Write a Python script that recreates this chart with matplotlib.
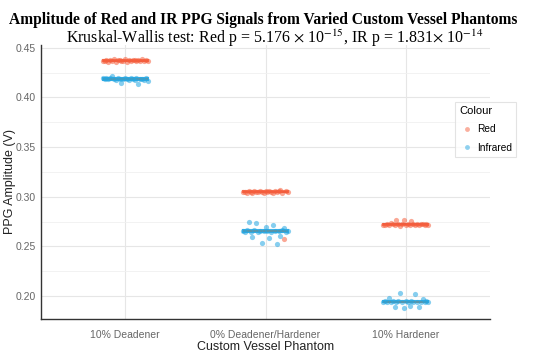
import matplotlib
matplotlib.use("Agg")
import matplotlib.pyplot as plt
import numpy as np
from matplotlib.lines import Line2D

plt.rcParams["mathtext.fontset"] = "stix"

categories = ["10% Deadener", "0% Deadener/Hardener", "10% Hardener"]

red_deadener = [0.4372, 0.4365, 0.4381, 0.4358, 0.4376, 0.4369, 0.4384, 0.4362, 0.4374,
                0.4379, 0.4367, 0.4371, 0.4386, 0.4360, 0.4375, 0.4368, 0.4380, 0.4373,
                0.4364, 0.4377, 0.4370, 0.4383, 0.4366, 0.4378, 0.4371]
ir_deadener = [0.4195, 0.4188, 0.4201, 0.4183, 0.4192, 0.4212, 0.4186, 0.4179, 0.4198,
               0.4190, 0.4150, 0.4184, 0.4193, 0.4187, 0.4176, 0.4196, 0.4189, 0.4181,
               0.4194, 0.4140, 0.4185, 0.4191, 0.4178, 0.4199, 0.4170]
red_neutral = [0.3045, 0.3052, 0.3040, 0.3058, 0.3048, 0.3036, 0.3055, 0.3043, 0.3050,
               0.3062, 0.3047, 0.3039, 0.3054, 0.3044, 0.3060, 0.3049, 0.3041, 0.3057,
               0.3046, 0.3053, 0.3065, 0.3042, 0.2578, 0.3059, 0.3048]
ir_neutral = [0.2655, 0.2648, 0.2662, 0.2745, 0.2650, 0.2590, 0.2668, 0.2735, 0.2643,
              0.2658, 0.2530, 0.2652, 0.2700, 0.2660, 0.2580, 0.2646, 0.2720, 0.2657,
              0.2520, 0.2651, 0.2600, 0.2664, 0.2690, 0.2649, 0.2659]
red_hardener = [0.2720, 0.2715, 0.2728, 0.2712, 0.2735, 0.2722, 0.2718, 0.2770, 0.2725,
                0.2710, 0.2730, 0.2765, 0.2719, 0.2726, 0.2714, 0.2760, 0.2723, 0.2717,
                0.2729, 0.2713, 0.2721, 0.2727, 0.2716, 0.2724, 0.2720]
ir_hardener = [0.1940, 0.1948, 0.1935, 0.1985, 0.1943, 0.1952, 0.1890, 0.1938, 0.1946,
               0.2030, 0.1937, 0.1880, 0.1950, 0.1942, 0.1900, 0.1955, 0.1939, 0.2020,
               0.1945, 0.1885, 0.1941, 0.1975, 0.1936, 0.1949, 0.1944]

red_groups = [red_deadener, red_neutral, red_hardener]
ir_groups = [ir_deadener, ir_neutral, ir_hardener]

RED = "#F6603E"
BLUE = "#23A6E2"

fig = plt.figure(figsize=(5.5, 3.56), dpi=100)
ax = fig.add_axes([0.0745, 0.104, 0.8165, 0.770])

for series, color, med in [(red_groups, RED, "#E8553A"), (ir_groups, BLUE, "#B07A50")]:
    for i, vals in enumerate(series):
        pos = i + 1
        ax.bxp([{
            "med": np.median(vals),
            "q1": np.percentile(vals, 25),
            "q3": np.percentile(vals, 75),
            "whislo": np.percentile(vals, 25),
            "whishi": np.percentile(vals, 75),
            "fliers": [],
        }], positions=[pos], widths=0.32, patch_artist=True, showcaps=False,
            boxprops=dict(facecolor=color, edgecolor=color, lw=1.5, alpha=0.85),
            medianprops=dict(color=med, lw=1.2),
            whiskerprops=dict(color=color, lw=0), zorder=2)
        offs = np.linspace(-0.16, 0.16, len(vals))
        ax.scatter(pos + offs, vals, s=14, color=color, alpha=0.55, lw=0, zorder=3)

ax.set_xlim(0.4, 3.6)
ax.set_ylim(0.1769, 0.453)
ax.set_xticks([1, 2, 3])
ax.set_xticklabels(categories)
ax.set_yticks([0.20, 0.25, 0.30, 0.35, 0.40, 0.45])
ax.set_yticklabels(["0.20", "0.25", "0.30", "0.35", "0.40", "0.45"])
ax.set_yticks([0.225, 0.275, 0.325, 0.375, 0.425], minor=True)
ax.grid(which="major", color="#E6E6E6", lw=0.8)
ax.grid(which="minor", axis="y", color="#F0F0F0", lw=0.6)
ax.set_axisbelow(True)
ax.tick_params(which="both", length=0, labelsize=7.5, labelcolor="#666666")
ax.tick_params(axis="y", pad=4)
ax.tick_params(axis="x", pad=8)
for s in ["top", "right"]:
    ax.spines[s].set_visible(False)
for s in ["left", "bottom"]:
    ax.spines[s].set_color("#333333")
    ax.spines[s].set_linewidth(1.0)
for lab in ax.get_xticklabels() + ax.get_yticklabels():
    lab.set_fontfamily("Liberation Sans")

ax.set_xlabel("Custom Vessel Phantom", fontsize=9, family="Liberation Sans",
              color="#222222", labelpad=1)
ax.set_ylabel("PPG Amplitude (V)", fontsize=9, family="Liberation Sans",
              color="#222222")
ax.yaxis.set_label_coords(-0.056, 0.5)

fig.text(0.478, 0.945, "Amplitude of Red and IR PPG Signals from Varied Custom Vessel Phantoms",
         ha="center", va="center", fontsize=11.2, fontweight="bold", family="Liberation Serif")
fig.text(0.5, 0.893,
         r"Kruskal-Wallis test: Red p = 5.176 $\times$ 10$^{-15}$, IR p = 1.831$\times$ 10$^{-14}$",
         ha="center", va="center", fontsize=11.5, family="Liberation Serif")

handles = [Line2D([], [], marker="o", ls="", color=RED, alpha=0.5, ms=3.5, mew=0),
           Line2D([], [], marker="o", ls="", color=BLUE, alpha=0.5, ms=3.5, mew=0)]
leg = fig.legend(handles, ["Red", "Infrared"], title="Colour", loc="upper right",
                 bbox_to_anchor=(0.947, 0.727), frameon=True, fancybox=False,
                 prop={"family": "Liberation Sans", "size": 7.3},
                 title_fontproperties={"family": "Liberation Sans", "size": 8},
                 handletextpad=0.2, borderpad=0.4, labelspacing=0.8, handlelength=1.5)
leg._legend_box.align = "left"
leg.get_frame().set_edgecolor("#DDDDDD")
leg.get_frame().set_linewidth(0.8)

fig.savefig("out.png", dpi=100)
